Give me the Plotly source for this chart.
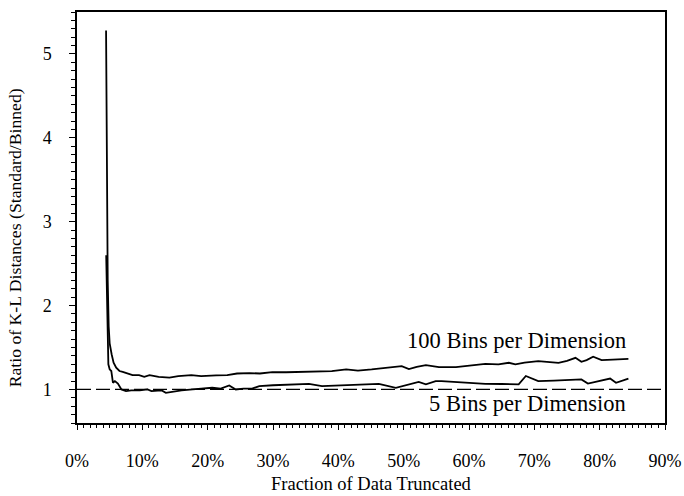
import plotly.graph_objects as go

# Fraction of data truncated (%) and K-L distance ratio, 100 bins per dimension
x_100 = [4.45, 4.55, 4.7, 4.85, 5.0, 5.3, 5.6, 6.0, 6.5, 7.0, 7.8, 8.5, 9.5, 10.3,
         11.1, 12.5, 14.15, 15.5, 17.5, 19.0, 21.3, 23.0, 24.5, 26.4, 28.0, 29.9,
         32.0, 34.0, 36.5, 39.0, 41.2, 43.0, 45.1, 47.5, 49.7, 50.8, 52.0, 53.4,
         55.4, 58.0, 60.5, 62.5, 64.5, 66.1, 67.1, 68.5, 70.6, 72.0, 73.7, 75.0,
         76.3, 77.2, 78.0, 79.0, 80.3, 82.0, 83.9, 84.4]
y_100 = [5.28, 3.6, 2.3, 1.75, 1.55, 1.42, 1.32, 1.26, 1.22, 1.21, 1.19, 1.17,
         1.17, 1.15, 1.17, 1.15, 1.14, 1.16, 1.17, 1.16, 1.167, 1.17, 1.19,
         1.195, 1.19, 1.207, 1.205, 1.207, 1.21, 1.218, 1.239, 1.225, 1.239,
         1.255, 1.278, 1.242, 1.27, 1.29, 1.266, 1.266, 1.29, 1.306, 1.30, 1.318,
         1.299, 1.32, 1.338, 1.33, 1.318, 1.34, 1.377, 1.33, 1.35, 1.39, 1.35,
         1.355, 1.36, 1.365]

# Same ratio, 5 bins per dimension
x_5 = [4.47, 4.55, 4.65, 4.8, 5.0, 5.25, 5.5, 5.8, 6.26, 6.8, 7.5, 8.3, 9.6, 10.8,
       11.4, 12.9, 13.6, 14.9, 16.0, 17.7, 19.5, 20.7, 22.0, 23.3, 24.3, 25.5,
       26.8, 27.9, 30.0, 32.0, 34.0, 35.5, 37.5, 40.0, 42.5, 44.5, 46.2, 48.8,
       50.5, 52.3, 53.4, 54.9, 55.8, 57.5, 58.9, 61.0, 62.5, 65.0, 67.6, 68.7,
       70.6, 73.0, 75.2, 77.2, 78.2, 79.8, 81.6, 82.5, 83.9, 84.4]
y_5 = [2.6, 2.3, 1.6, 1.3, 1.24, 1.22, 1.08, 1.10, 1.07, 1.0, 0.98, 0.99, 0.99,
       1.0, 0.98, 0.99, 0.96, 0.98, 0.99, 1.0, 1.01, 1.02, 1.01, 1.048, 1.0,
       1.01, 1.01, 1.04, 1.05, 1.055, 1.06, 1.067, 1.04, 1.05, 1.055, 1.06,
       1.067, 1.02, 1.05, 1.09, 1.06, 1.10, 1.10, 1.09, 1.08, 1.075, 1.067,
       1.065, 1.06, 1.16, 1.10, 1.105, 1.11, 1.12, 1.07, 1.10, 1.13, 1.08,
       1.12, 1.13]

reference_ratio = 1.0
x_ticks = [0, 10, 20, 30, 40, 50, 60, 70, 80, 90]
x_tick_text = [f"{v}%" for v in x_ticks]
y_ticks = [1, 2, 3, 4, 5]

FONT = "Liberation Serif, Times New Roman, serif"

fig = go.Figure()
for xs, ys in [(x_100, y_100), (x_5, y_5)]:
    fig.add_trace(go.Scatter(
        x=[v / 100 for v in xs], y=ys, mode="lines",
        line=dict(color="black", width=1.8), showlegend=False,
    ))

fig.add_hline(y=reference_ratio, line=dict(color="black", width=1.2, dash="14px,5px"))

fig.add_annotation(x=0.843, y=1.585, text="100 Bins per Dimension", showarrow=False,
                   xanchor="right", yanchor="middle", font=dict(size=22.5, color="black"))
fig.add_annotation(x=0.843, y=0.83, text="5 Bins per Dimension", showarrow=False,
                   xanchor="right", yanchor="middle", font=dict(size=22.5, color="black"))

# axis titles placed as annotations in paper coordinates
fig.add_annotation(xref="paper", yref="paper", x=-0.105, y=0.45, xanchor="center",
                   yanchor="middle", textangle=-90, showarrow=False,
                   text="Ratio of K-L Distances (Standard/Binned)",
                   font=dict(size=17.7, color="black"))
fig.add_annotation(xref="paper", yref="paper", x=0.5, y=-0.149, xanchor="center",
                   yanchor="middle", showarrow=False,
                   text="Fraction of Data Truncated",
                   font=dict(size=18.5, color="black"))

fig.update_layout(
    width=684, height=496,
    margin=dict(l=77, r=19, t=12, b=73),
    paper_bgcolor="white", plot_bgcolor="white",
    font=dict(family=FONT, size=18, color="black"),
    xaxis=dict(
        range=[0, 0.9], tickvals=[v / 100 for v in x_ticks], ticktext=x_tick_text,
        showgrid=False, zeroline=False, showline=True, linecolor="black",
        linewidth=1.5, mirror=True, ticks="outside", ticklen=5, tickwidth=1,
        tickcolor="black", ticklabelstandoff=16, automargin=False,
        minor=dict(dtick=0.01, ticks="outside", ticklen=3, tickcolor="black", tickwidth=1),
    ),
    yaxis=dict(
        range=[0.6, 5.5], tickvals=y_ticks,
        showgrid=False, zeroline=False, showline=True, linecolor="black",
        linewidth=1.5, mirror=True, ticks="outside", ticklen=6, tickwidth=1,
        tickcolor="black", ticklabelstandoff=14, automargin=False,
        minor=dict(dtick=0.1, ticks="outside", ticklen=4, tickcolor="black", tickwidth=1),
    ),
)

fig.write_html("out.html")
